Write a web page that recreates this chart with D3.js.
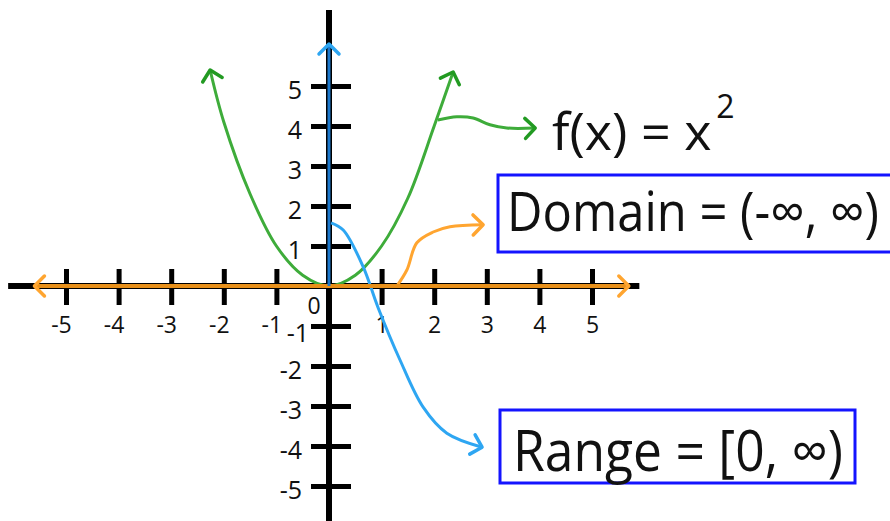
<!DOCTYPE html>
<html>
<head>
<meta charset="utf-8">
<script src="https://cdn.jsdelivr.net/npm/d3@7"></script>
<style>
  body { margin: 0; background: #fff; }
  svg { display: block; }
</style>
</head>
<body>
<main></main>
<script>
// tick values on both axes
const xTickValues = [-5, -4, -3, -2, -1, 1, 2, 3, 4, 5];
const yTickValues = [-5, -4, -3, -2, -1, 1, 2, 3, 4, 5];

// f(x) = x^2
const parabolaX = [-2.26, -2, -1.5, -1, -0.5, 0, 0.5, 1, 1.5, 2, 2.36];
const parabolaY = [5.4, 4.1, 2.3, 1.0, 0.27, 0, 0.27, 1.0, 2.2, 4.0, 5.35];

// domain arrow along the x axis, range arrow up the y axis
const domainExtent = [-5.6, 5.7];
const rangeExtent = [0, 6.05];
const axisExtentX = [-6.1, 5.9];
const axisExtentY = [-5.9, 6.9];

// pointer curves to the labels (data units)
const funcPointerX = [2.07, 2.43, 2.74, 3.06, 3.38, 3.92];
const funcPointerY = [4.15, 4.23, 4.2, 4.03, 3.95, 3.95];
const domainPointerX = [1.29, 1.48, 1.67, 1.98, 2.3, 2.93];
const domainPointerY = [0, 0.4, 1.08, 1.35, 1.48, 1.53];
const rangePointerX = [0.04, 0.27, 0.65, 0.93, 1.35, 1.79, 2.24, 2.91];
const rangePointerY = [1.58, 1.4, 0.48, -0.53, -1.85, -3.03, -3.68, -4.03];

// label texts
const funcLabel = 'f(x) = x';
const funcPower = '2';
const domainLabel = 'Domain = (-∞, ∞)';
const rangeLabel = 'Range = [0, ∞)';

const width = 890;
const height = 521;
const font = "'Open Sans', sans-serif";

const green = '#3eac3a';
const greenDark = '#229a22';
const blueLight = '#2ea6f2';
const blueDark = '#1c78cc';
const orange = '#e8901a';
const orangeLight = '#ffa530';
const boxBlue = '#1414ff';

const x = d3.scaleLinear()
  .domain([-5, 5])
  .range([66, 592]);

const y = d3.scaleLinear()
  .domain([-5, 5])
  .range([486, 86]);

const svg = d3.select('main')
  .append('svg')
  .attr('width', width)
  .attr('height', height)
  .style('background', '#fff');

// chevron arrow heads
const defs = svg.append('defs');
const marker = (id, color) => {
  defs.append('marker')
    .attr('id', id)
    .attr('viewBox', '-14 -14 28 28')
    .attr('refX', 0)
    .attr('refY', 0)
    .attr('markerUnits', 'userSpaceOnUse')
    .attr('markerWidth', 28)
    .attr('markerHeight', 28)
    .attr('orient', 'auto-start-reverse')
    .style('overflow', 'visible')
    .append('path')
    .attr('d', 'M-10,-10 L0,0 L-10,10')
    .attr('fill', 'none')
    .attr('stroke', color)
    .attr('stroke-width', 3.5)
    .attr('stroke-linecap', 'round')
    .attr('stroke-linejoin', 'round');
};
marker('head-green', greenDark);
marker('head-blue', blueLight);
marker('head-orange', orangeLight);

// black axis lines
svg.append('line')
  .attr('x1', x(axisExtentX[0]))
  .attr('x2', x(axisExtentX[1]))
  .attr('y1', y(0))
  .attr('y2', y(0))
  .attr('stroke', '#000')
  .attr('stroke-width', 6);

svg.append('line')
  .attr('x1', x(0))
  .attr('x2', x(0))
  .attr('y1', y(axisExtentY[1]))
  .attr('y2', y(axisExtentY[0]))
  .attr('stroke', '#000')
  .attr('stroke-width', 6);

// x axis ticks and labels
const xAxis = d3.axisBottom(x)
  .tickValues(xTickValues)
  .tickSize(0)
  .tickFormat(d => String(d));

const gx = svg.append('g')
  .attr('transform', `translate(0, ${y(0)})`)
  .call(xAxis);
gx.select('.domain').remove();
gx.selectAll('.tick line')
  .attr('y1', -17)
  .attr('y2', 19)
  .attr('stroke', '#000')
  .attr('stroke-width', 5);
gx.selectAll('.tick text')
  .attr('y', 0)
  .attr('dy', 0)
  .attr('transform', 'translate(0, 47)')
  .attr('dx', d => d < 0 ? -5 : 0)
  .style('font-family', font)
  .style('font-size', '23px')
  .attr('fill', '#111');

// y axis ticks and labels
const yAxis = d3.axisLeft(y)
  .tickValues(yTickValues)
  .tickSize(0)
  .tickFormat(d => String(d));

const gy = svg.append('g')
  .attr('transform', `translate(${x(0)}, 0)`)
  .call(yAxis);
gy.select('.domain').remove();
gy.selectAll('.tick line')
  .attr('x1', -18)
  .attr('x2', 22)
  .attr('stroke', '#000')
  .attr('stroke-width', 5);
gy.selectAll('.tick text')
  .attr('x', d => d === -1 ? -20 : -27)
  .attr('dy', 0)
  .attr('transform', d => `translate(0, ${d === -1 ? 15 : 12})`)
  .style('font-family', font)
  .style('font-size', '25px')
  .attr('fill', '#111');

// origin label
svg.append('text')
  .attr('x', x(0) - 15)
  .attr('y', y(0) + 28)
  .attr('text-anchor', 'middle')
  .style('font-family', font)
  .style('font-size', '23px')
  .attr('fill', '#111')
  .text('0');

const curve = d3.line()
  .x(d => x(d[0]))
  .y(d => y(d[1]))
  .curve(d3.curveCatmullRom.alpha(0.5));

// parabola
svg.append('path')
  .datum(d3.zip(parabolaX, parabolaY))
  .attr('d', curve)
  .attr('fill', 'none')
  .attr('stroke', green)
  .attr('stroke-width', 3)
  .attr('marker-start', 'url(#head-green)')
  .attr('marker-end', 'url(#head-green)');

// pointer to f(x) label
svg.append('path')
  .datum(d3.zip(funcPointerX, funcPointerY))
  .attr('d', curve)
  .attr('fill', 'none')
  .attr('stroke', green)
  .attr('stroke-width', 3)
  .attr('marker-end', 'url(#head-green)');

// pointer to range label
svg.append('path')
  .datum(d3.zip(rangePointerX, rangePointerY))
  .attr('d', curve)
  .attr('fill', 'none')
  .attr('stroke', blueLight)
  .attr('stroke-width', 3)
  .attr('marker-end', 'url(#head-blue)');

// pointer to domain label
svg.append('path')
  .datum(d3.zip(domainPointerX, domainPointerY))
  .attr('d', curve)
  .attr('fill', 'none')
  .attr('stroke', orangeLight)
  .attr('stroke-width', 3)
  .attr('marker-end', 'url(#head-orange)');

// domain along the x axis
svg.append('line')
  .attr('x1', x(domainExtent[0]))
  .attr('x2', x(domainExtent[1]))
  .attr('y1', y(0))
  .attr('y2', y(0))
  .attr('stroke', orange)
  .attr('stroke-width', 4)
  .attr('marker-start', 'url(#head-orange)')
  .attr('marker-end', 'url(#head-orange)');

// range up the y axis
svg.append('line')
  .attr('x1', x(0))
  .attr('x2', x(0))
  .attr('y1', y(rangeExtent[0]))
  .attr('y2', y(rangeExtent[1]))
  .attr('stroke', blueDark)
  .attr('stroke-width', 3)
  .attr('marker-end', 'url(#head-blue)');

// f(x) = x^2 label
const funcText = svg.append('text')
  .attr('x', 552)
  .attr('y', 150)
  .style('font-family', font)
  .style('font-size', '52px')
  .attr('fill', '#111')
  .text(funcLabel);
funcText.append('tspan')
  .attr('dx', 5)
  .attr('dy', -32)
  .style('font-size', '32px')
  .text(funcPower);

// boxed labels, squeezed horizontally to the drawn width
const boxLabel = (text, bx, by, bw, bh, tx, ty, tw, size) => {
  svg.append('rect')
    .attr('x', bx)
    .attr('y', by)
    .attr('width', bw)
    .attr('height', bh)
    .attr('fill', '#fff')
    .attr('stroke', boxBlue)
    .attr('stroke-width', 3);
  const t = svg.append('text')
    .attr('x', 0)
    .attr('y', 0)
    .style('font-family', font)
    .style('font-size', `${size}px`)
    .attr('fill', '#111')
    .text(text);
  const sx = Math.min(1, tw / t.node().getComputedTextLength());
  t.attr('transform', `translate(${tx}, ${ty}) scale(${sx}, 1)`);
};

// the domain box runs off the right edge, as in the drawing
boxLabel(domainLabel, 498, 175, 410, 77, 507, 231, 372, 54);
boxLabel(rangeLabel, 500, 410, 355, 73, 513, 471, 330, 56);
</script>
</body>
</html>
